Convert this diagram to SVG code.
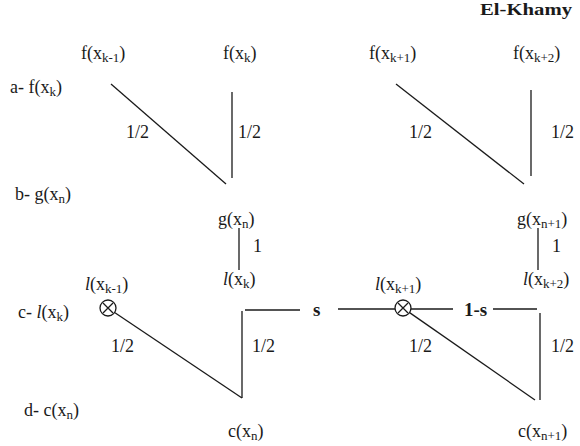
<svg xmlns="http://www.w3.org/2000/svg" width="580" height="446" viewBox="0 0 580 446">
<defs>
<style>
text{font-family:'Liberation Serif','Times New Roman',Times,'DejaVu Serif',serif;font-size:18px;fill:#1a1a1a}
.sub{font-size:13px}
.it{font-style:italic}
.b{font-weight:bold}
.ln{stroke:#1a1a1a;stroke-width:1.3;fill:none}
</style>
<g id="otimes">
<circle cx="0" cy="0" r="8" class="ln"/>
<path d="M-5,-5 L5,5 M-5,5 L5,-5" class="ln"/>
</g>
</defs>
<rect width="580" height="446" fill="#fff"/>
<g font-family="Liberation Serif, Times New Roman, serif">
<text id="title" x="480" y="15" class="b" style="font-size:17px" textLength="92" lengthAdjust="spacingAndGlyphs">El-Khamy</text>

<g id="row-labels">
<text x="10" y="93">a- f(x<tspan class="sub" dy="3">k</tspan><tspan dy="-3">)</tspan></text>
<text x="15" y="200">b- g(x<tspan class="sub" dy="3">n</tspan><tspan dy="-3">)</tspan></text>
<text x="18" y="318">c- <tspan class="it">l</tspan>(x<tspan class="sub" dy="3">k</tspan><tspan dy="-3">)</tspan></text>
<text x="24" y="416">d- c(x<tspan class="sub" dy="3">n</tspan><tspan dy="-3">)</tspan></text>
</g>

<g id="f_km1"><text x="81" y="59">f(x<tspan class="sub" dy="3">k-1</tspan><tspan dy="-3">)</tspan></text></g>
<g id="f_k"><text x="223" y="59">f(x<tspan class="sub" dy="3">k</tspan><tspan dy="-3">)</tspan></text></g>
<g id="f_kp1"><text x="369" y="59">f(x<tspan class="sub" dy="3">k+1</tspan><tspan dy="-3">)</tspan></text></g>
<g id="f_kp2"><text x="513" y="59">f(x<tspan class="sub" dy="3">k+2</tspan><tspan dy="-3">)</tspan></text></g>

<g id="g_n"><text x="218" y="225">g(x<tspan class="sub" dy="3">n</tspan><tspan dy="-3">)</tspan></text></g>
<g id="g_np1"><text x="517" y="225">g(x<tspan class="sub" dy="3">n+1</tspan><tspan dy="-3">)</tspan></text></g>

<g id="l_k"><text x="223" y="285"><tspan class="it">l</tspan>(x<tspan class="sub" dy="3">k</tspan><tspan dy="-3">)</tspan></text></g>
<g id="l_kp2"><text x="523" y="285"><tspan class="it">l</tspan>(x<tspan class="sub" dy="3">k+2</tspan><tspan dy="-3">)</tspan></text></g>

<g id="l_km1">
<text x="85" y="290"><tspan class="it">l</tspan>(x<tspan class="sub" dy="3">k-1</tspan><tspan dy="-3">)</tspan></text>
<use href="#otimes" x="108" y="308"/>
</g>
<g id="l_kp1">
<text x="375" y="290"><tspan class="it">l</tspan>(x<tspan class="sub" dy="3">k+1</tspan><tspan dy="-3">)</tspan></text>
<use href="#otimes" x="403" y="308"/>
</g>

<g id="c_n"><text x="228" y="437">c(x<tspan class="sub" dy="3">n</tspan><tspan dy="-3">)</tspan></text></g>
<g id="c_np1"><text x="518" y="437">c(x<tspan class="sub" dy="3">n+1</tspan><tspan dy="-3">)</tspan></text></g>

<g id="connectors">
<line class="ln" x1="111" y1="84" x2="226" y2="184"/>
<line class="ln" x1="232" y1="92" x2="232" y2="178"/>
<line class="ln" x1="396" y1="84" x2="524" y2="184"/>
<line class="ln" x1="531" y1="90" x2="531" y2="176"/>
<line class="ln" x1="239" y1="228" x2="239" y2="270"/>
<line class="ln" x1="538" y1="228" x2="538" y2="270"/>
<line class="ln" x1="114.6" y1="312.5" x2="242" y2="398"/>
<line class="ln" x1="242" y1="311" x2="242" y2="398"/>
<line class="ln" x1="245" y1="310" x2="300" y2="310"/>
<line class="ln" x1="338" y1="309" x2="395" y2="309"/>
<line class="ln" x1="411" y1="309" x2="453" y2="309"/>
<line class="ln" x1="493" y1="309" x2="537" y2="309"/>
<line class="ln" x1="540" y1="313" x2="540" y2="400"/>
<line class="ln" x1="409.6" y1="312.6" x2="535" y2="400"/>
</g>

<g id="edge-labels">
<text x="126" y="138">1/2</text>
<text x="238" y="138">1/2</text>
<text x="409" y="138">1/2</text>
<text x="551" y="138">1/2</text>
<text x="253" y="252">1</text>
<text x="552" y="252">1</text>
<text x="111" y="352">1/2</text>
<text x="252" y="352">1/2</text>
<text x="409" y="352">1/2</text>
<text x="551" y="352">1/2</text>
<text x="313" y="316" class="b" style="font-size:19px">s</text>
<text x="464" y="316" class="b" style="font-size:19px">1-s</text>
</g>
</g>
</svg>
